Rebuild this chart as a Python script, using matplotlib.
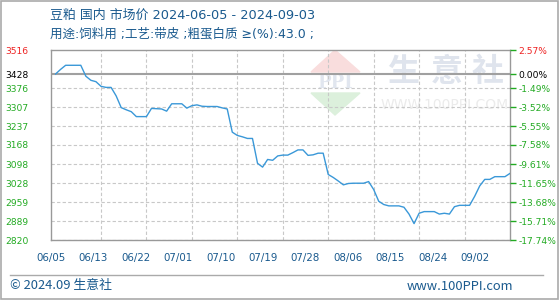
import matplotlib.pyplot as plt
import numpy as np
import pandas as pd

plt.rcParams['font.family'] = ['Noto Sans CJK SC', 'DejaVu Sans']

# daily prices 2024-06-05 .. 2024-09-03
dates = pd.date_range('2024-06-05', '2024-09-03')
prices = [
    3428, 3445, 3460, 3460, 3460, 3460, 3420, 3405, 3400, 3383,
    3379, 3379, 3348, 3305, 3297, 3290, 3272, 3272, 3272, 3302,
    3301, 3300, 3292, 3319, 3319, 3319, 3303, 3312, 3315, 3310,
    3309, 3309, 3309, 3304, 3300, 3215, 3203, 3198, 3192, 3192,
    3101, 3087, 3115, 3112, 3128, 3131, 3131, 3140, 3150, 3150,
    3130, 3132, 3138, 3138, 3060, 3049, 3036, 3022, 3027, 3028,
    3028, 3028, 3034, 3005, 2962, 2950, 2945, 2945, 2945, 2940,
    2915, 2880, 2918, 2924, 2924, 2924, 2915, 2918, 2915, 2942,
    2947, 2947, 2947, 2980, 3018, 3042, 3042, 3052, 3052, 3052,
    3064,
]

base = 3428
y_ticks = [2820, 2889, 2959, 3028, 3098, 3168, 3237, 3307, 3376, 3428, 3516]
pct_labels = ['-17.74%', '-15.71%', '-13.68%', '-11.65%', '-9.61%', '-7.58%',
              '-5.55%', '-3.52%', '-1.49%', '0.00%', '2.57%']
x_labels = ['06/05', '06/13', '06/22', '07/01', '07/10', '07/19',
            '07/28', '08/06', '08/15', '08/24', '09/02']

title1 = '豆粕 国内 市场价 2024-06-05 - 2024-09-03'
title2 = '用途:饲料用 ;工艺:带皮 ;粗蛋白质 ≥(%):43.0 ;'

blue_txt = '#1a5a8e'
green = '#22aa22'
red = '#ee2222'
grid_c = '#c8c8c8'
frame_c = '#999999'
latin_first = ['DejaVu Sans', 'Noto Sans CJK SC']

fig = plt.figure(figsize=(5.6, 3.0), dpi=100)
ax = fig.add_axes([51 / 560, 60 / 300, 459 / 560, 190 / 300])

x = np.arange(len(prices))
ax.plot(x, prices, color='#3a98d8', lw=1.0, zorder=3)

ax.set_xlim(0, len(prices) - 1)
ax.set_ylim(y_ticks[0], y_ticks[-1])

# horizontal grid
for v in y_ticks[:-2]:
    ax.axhline(v, color=grid_c, lw=0.8, ls=(0, (3, 2)), zorder=1)
ax.axhline(base, color='#a0a0a0', lw=1.5, zorder=2)
# vertical grid
for d in np.arange(9, len(prices) - 1, 9):
    ax.axvline(d, color=grid_c, lw=0.8, ls=(0, (3, 2)), zorder=1)

for s in ax.spines.values():
    s.set_color(frame_c)
    s.set_linewidth(1.0)

ax.set_xticks(np.linspace(-0.9, 83.1, len(x_labels)))
ax.set_xticklabels(x_labels, fontsize=7.4, color=blue_txt, family='DejaVu Sans')
ax.tick_params(axis='x', length=0, pad=9.5)

ax.set_yticks(y_ticks)
ax.set_yticklabels([str(v) for v in y_ticks], fontsize=6.6, family='DejaVu Sans', ha='left')
ax.tick_params(axis='y', length=0, pad=33)
for lab, v in zip(ax.get_yticklabels(), y_ticks):
    lab.set_color(red if v > base else ('black' if v == base else green))

ax2 = ax.twinx()
ax2.set_ylim(ax.get_ylim())
ax2.set_yticks(y_ticks)
ax2.set_yticklabels(pct_labels, fontsize=6.6, family='DejaVu Sans')
ax2.tick_params(axis='y', length=4, width=1, color=green, pad=2)
for lab, v in zip(ax2.get_yticklabels(), y_ticks):
    lab.set_color(red if v > base else ('black' if v == base else green))
for s in ax2.spines.values():
    s.set_visible(False)

# watermark (below the grid)
ft = fig.transFigure
for ch, cx in zip('生意社', [403, 447, 488]):
    ax.text(cx / 560, 1 - 72 / 300, ch, fontsize=23, color='#dfe4ed', fontweight='bold',
            va='center', ha='center', transform=ft, zorder=0)
ax.text(445 / 560, 1 - 105 / 300, 'WWW.100PPI.COM', fontsize=10, color='#ebebeb',
        va='center', ha='center', family='DejaVu Sans', transform=ft, zorder=0)
ax.add_patch(plt.Polygon([[311 / 560, 1 - 72 / 300], [335 / 560, 1 - 50 / 300],
                          [360 / 560, 1 - 72 / 300]], closed=True,
                         transform=ft, color='#f9dddd', zorder=0))
ax.add_patch(plt.Polygon([[311 / 560, 1 - 93 / 300], [335 / 560, 1 - 115 / 300],
                          [360 / 560, 1 - 93 / 300]], closed=True,
                         transform=ft, color='#dcf0dc', zorder=0))
ax.text(335 / 560, 1 - 83 / 300, 'PPI', fontsize=13, color='#e1e6ef', fontweight='bold',
        family='DejaVu Serif', va='center', ha='center', transform=ft, zorder=0)

# titles
fig.text(50 / 560, 1 - 15 / 300, title1, fontsize=9.3, color=blue_txt, va='center',
         family=latin_first)
fig.text(50 / 560, 1 - 34 / 300, title2, fontsize=9.0, color=blue_txt, va='center',
         family=latin_first)

# footer
fig.add_artist(plt.Line2D([10 / 560, 543 / 560], [1 - 275 / 300, 1 - 275 / 300],
                          color='#aaaaaa', lw=1))
fig.text(10 / 560, 1 - 286 / 300, '© 2024.09 生意社', fontsize=9.3, color=blue_txt, va='center')
fig.text(513 / 560, 1 - 286 / 300, 'www.100PPI.com', fontsize=9.3, color=blue_txt,
         va='center', ha='right')

# outer border
fig.patches.append(plt.Rectangle((0.001, 0.002), 0.996, 0.995, fill=False,
                                 transform=ft, ec='#aaaaaa', lw=1.2))

fig.savefig('out.png', dpi=100)
